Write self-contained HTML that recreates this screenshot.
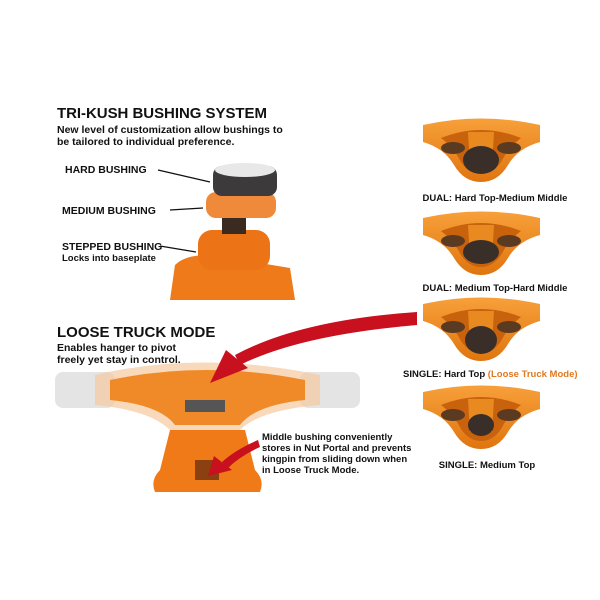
<!DOCTYPE html>
<html><head><style>
body{margin:0;background:#fff;width:600px;height:600px;overflow:hidden}
svg{display:block}
text{font-family:"Liberation Sans",Arial,sans-serif;font-weight:bold;fill:#111}
</style></head><body>
<svg width="600" height="600" viewBox="0 0 600 600">
<defs>
<linearGradient id="og" x1="0" y1="0" x2="0" y2="1"><stop offset="0" stop-color="#f7a03a"/><stop offset="1" stop-color="#e0750f"/></linearGradient>
<g id="hg">
<path d="M0 5 Q58 -8 117 5 L117 22 Q95 28 85 45 Q75 62 58 62 Q41 62 31 45 Q21 28 0 22 Z" fill="url(#og)"/>
<path d="M18 18 Q58 2 98 18 Q85 28 78 42 Q70 54 58 54 Q46 54 38 42 Q31 28 18 18Z" fill="#c9620c"/>
<ellipse cx="30" cy="28" rx="12" ry="6" fill="#5b3a22"/><ellipse cx="86" cy="28" rx="12" ry="6" fill="#5b3a22"/>
<path d="M45 12 L71 12 L69 45 L47 45Z" fill="#e88a20"/>
</g>
</defs>
<text x="57" y="118" font-size="15" textLength="210">TRI-KUSH BUSHING SYSTEM</text>
<text x="57" y="133" font-size="10.5">New level of customization allow bushings to</text>
<text x="57" y="145" font-size="10.5">be tailored to individual preference.</text>
<text x="65" y="173" font-size="10.5">HARD BUSHING</text>
<text x="62" y="214" font-size="10.5">MEDIUM BUSHING</text>
<text x="62" y="250" font-size="10.5">STEPPED BUSHING</text>
<text x="62" y="261" font-size="9.5">Locks into baseplate</text>
<path d="M158 170 L210 182 M170 210 L203 208 M160 246 L196 252" stroke="#111" stroke-width="1.3"/>
<path d="M175 265 Q190 250 230 258 L290 268 L295 300 L170 300 Z" fill="#ee7a1a"/>
<rect x="198" y="230" width="72" height="40" rx="14" fill="#ec7416"/>
<rect x="222" y="218" width="24" height="16" fill="#3a2a20"/>
<rect x="206" y="192" width="70" height="26" rx="10" fill="#ee8a3a"/>
<rect x="213" y="166" width="64" height="30" rx="9" fill="#3c3a3a"/>
<ellipse cx="245" cy="170" rx="30" ry="7" fill="#e8e8e8"/>
<text x="57" y="337" font-size="15">LOOSE TRUCK MODE</text>
<text x="57" y="351" font-size="10.5">Enables hanger to pivot</text>
<text x="57" y="363" font-size="10.5">freely yet stay in control.</text>
<rect x="55" y="372" width="60" height="36" rx="8" fill="#ddd" opacity=".8"/>
<rect x="300" y="372" width="60" height="36" rx="8" fill="#ddd" opacity=".8"/>
<path d="M95 375 Q200 350 320 375 L320 405 Q260 410 240 430 L170 430 Q150 410 95 405Z" fill="#f6c9a0" opacity=".7"/>
<path d="M110 380 Q205 360 305 380 L305 400 Q255 405 240 425 L175 425 Q160 405 110 400Z" fill="#f08a28"/>
<rect x="185" y="400" width="40" height="12" fill="#555"/>
<path d="M170 430 L245 430 L255 470 Q265 480 260 492 L155 492 Q150 480 160 470Z" fill="#f07a18"/>
<rect x="195" y="460" width="24" height="20" fill="#8a4010"/>
<text x="262" y="440" font-size="9.5">Middle bushing conveniently</text>
<text x="262" y="451" font-size="9.5">stores in Nut Portal and prevents</text>
<text x="262" y="462" font-size="9.5">kingpin from sliding down when</text>
<text x="262" y="473" font-size="9.5">in Loose Truck Mode.</text>
<path d="M417 312 Q300 320 235 355 L240 365 Q300 335 417 325Z" fill="#c8101e"/>
<path d="M226 350 L248 368 L210 383Z" fill="#c8101e"/>
<path d="M258 440 Q235 450 222 462 L228 468 Q240 456 260 447Z" fill="#c8101e"/>
<path d="M214 456 L232 470 L208 476Z" fill="#c8101e"/>
<use href="#hg" x="423" y="120"/>
<use href="#hg" x="423" y="213"/>
<use href="#hg" x="423" y="299"/>
<use href="#hg" x="423" y="387"/>
<ellipse cx="481" cy="160" rx="18" ry="14" fill="#3a2e28"/>
<ellipse cx="481" cy="252" rx="18" ry="12" fill="#3a2e28"/>
<ellipse cx="481" cy="340" rx="16" ry="14" fill="#3a2e28"/>
<ellipse cx="481" cy="425" rx="13" ry="11" fill="#3a2e28"/>
<text x="495" y="201" font-size="9.5" text-anchor="middle">DUAL: Hard Top-Medium Middle</text>
<text x="495" y="291" font-size="9.5" text-anchor="middle">DUAL: Medium Top-Hard Middle</text>
<text x="403" y="377" font-size="9.5">SINGLE: Hard Top <tspan fill="#e07a20">(Loose Truck Mode)</tspan></text>
<text x="487" y="468" font-size="9.5" text-anchor="middle">SINGLE: Medium Top</text>
</svg>
</body></html>
